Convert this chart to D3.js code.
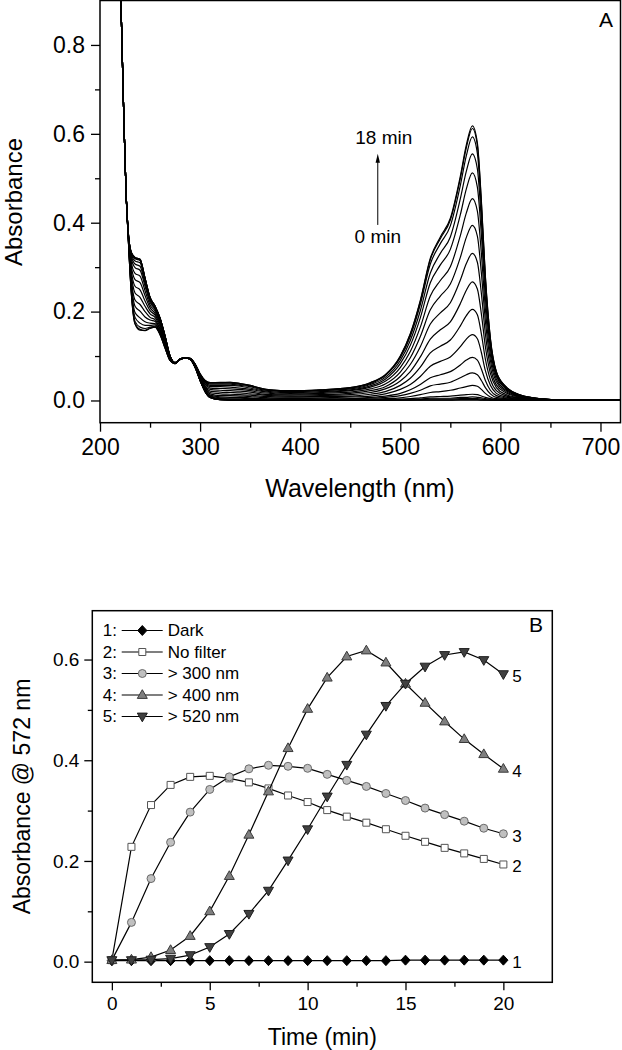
<!DOCTYPE html>
<html><head><meta charset="utf-8">
<script src="https://cdn.jsdelivr.net/npm/d3@7"></script>
<style>body{margin:0;background:#fff}</style>
</head><body><svg id="chart" width="622" height="1050"></svg>
<script>
// ================= DATA =================
// Panel A: absorption spectra recorded every minute (0 ... 18 min)
const wavelengths = [220,222,224,226,228,231,235,240,245,250,255,260,265,
  270,275,280,285,290,295,300,305,310,320,330,340,350,360,370,390,420,450,
  470,485,500,510,520,530,540,550,560,566,572,577,581,585,590,596,605,620,640,660,720];

const abs00 = [.98,.80,.62,.47,.385,.335,.322,.318,.275,.232,.212,.185,.145,
  .100,.085,.093,.096,.093,.075,.045,.020,.007,.002,.001,.001,.001,.001,.001,.001,.001,.001,
  .001,.001,.001,.001,.001,.001,.001,.001,.001,.001,.001,.001,.001,.001,.001,.001,.001,.001,.001,.001,.001];
const abs01 = [.98,.80,.62,.47,.385,.335,.322,.318,.275,.232,.212,.185,.145,
  .100,.085,.093,.096,.093,.075,.045,.020,.007,.002,.001,.001,.001,.001,.001,.001,.001,.001,
  .001,.001,.001,.001,.001,.001,.001,.001,.002,.002,.002,.002,.001,.001,.001,.001,.001,.001,.001,.001,.001];
const abs02 = [.98,.80,.62,.47,.385,.335,.321,.317,.275,.232,.212,.185,.145,
  .100,.085,.093,.096,.093,.075,.045,.020,.007,.002,.001,.001,.001,.001,.001,.001,.001,.001,
  .001,.001,.001,.001,.002,.003,.003,.003,.004,.004,.004,.004,.003,.002,.001,.001,.001,.001,.001,.001,.001];
const abs03 = [.98,.80,.62,.47,.385,.334,.320,.316,.274,.231,.212,.185,.145,
  .100,.085,.093,.096,.093,.075,.045,.020,.007,.002,.001,.001,.001,.001,.001,.001,.001,.001,
  .001,.001,.002,.003,.003,.005,.005,.005,.007,.007,.008,.007,.006,.004,.003,.002,.001,.001,.001,.001,.001];
const abs04 = [.98,.80,.62,.47,.385,.333,.319,.315,.273,.231,.211,.184,.144,
  .100,.085,.093,.096,.093,.075,.045,.021,.008,.003,.002,.002,.002,.002,.001,.001,.001,.002,
  .002,.002,.003,.004,.006,.008,.009,.010,.012,.013,.014,.013,.010,.007,.004,.002,.002,.001,.001,.001,.001];
const abs05 = [.98,.80,.62,.47,.384,.330,.314,.310,.269,.228,.210,.183,.144,
  .099,.085,.093,.096,.093,.075,.046,.021,.009,.004,.003,.003,.003,.002,.002,.002,.002,.002,
  .003,.004,.006,.009,.013,.018,.020,.023,.028,.031,.034,.032,.025,.016,.008,.004,.003,.002,.001,.001,.001];
const abs06 = [.98,.80,.62,.47,.384,.327,.307,.302,.263,.225,.207,.181,.142,
  .099,.085,.093,.096,.093,.076,.046,.022,.010,.006,.005,.005,.004,.004,.003,.003,.003,.004,
  .005,.007,.011,.016,.023,.033,.037,.041,.051,.058,.062,.058,.045,.029,.015,.007,.004,.002,.001,.001,.001];
const abs07 = [.98,.80,.62,.47,.383,.322,.299,.293,.257,.221,.205,.179,.141,
  .098,.085,.093,.096,.093,.076,.047,.024,.012,.008,.007,.007,.006,.005,.005,.004,.005,.005,
  .007,.010,.016,.024,.036,.051,.058,.065,.080,.091,.097,.091,.071,.045,.023,.011,.006,.003,.001,.001,.001];
const abs08 = [.98,.80,.62,.47,.383,.315,.286,.280,.247,.215,.201,.176,.139,
  .098,.085,.093,.096,.093,.077,.049,.026,.015,.011,.011,.010,.009,.007,.006,.006,.006,.008,
  .010,.015,.025,.036,.054,.077,.088,.098,.121,.138,.148,.139,.108,.067,.034,.016,.008,.004,.002,.001,.001];
const abs09 = [.98,.80,.62,.47,.382,.307,.272,.265,.236,.209,.196,.173,.136,
  .097,.084,.093,.096,.094,.077,.050,.028,.018,.015,.014,.013,.012,.010,.009,.008,.009,.010,
  .014,.020,.034,.050,.075,.107,.122,.136,.168,.191,.205,.193,.150,.093,.047,.022,.011,.005,.002,.001,.001];
const abs10 = [.98,.80,.62,.47,.381,.298,.257,.249,.224,.202,.192,.169,.133,
  .096,.084,.093,.096,.094,.078,.051,.031,.021,.019,.018,.017,.015,.013,.011,.010,.011,.013,
  .018,.026,.044,.065,.098,.138,.159,.177,.218,.248,.267,.251,.195,.121,.061,.029,.014,.006,.002,.001,.001];
const abs11 = [.98,.80,.62,.47,.380,.290,.242,.232,.212,.195,.187,.165,.131,
  .095,.084,.092,.096,.094,.079,.053,.033,.025,.023,.022,.021,.019,.015,.013,.012,.013,.016,
  .022,.031,.054,.081,.121,.172,.197,.220,.271,.308,.331,.311,.241,.150,.075,.035,.018,.007,.003,.001,.001];
const abs12 = [.98,.80,.62,.47,.379,.281,.226,.216,.200,.187,.182,.161,.128,
  .094,.084,.092,.096,.094,.079,.055,.036,.028,.027,.026,.025,.022,.018,.016,.014,.016,.019,
  .026,.037,.064,.096,.144,.204,.235,.262,.322,.367,.394,.370,.287,.179,.090,.042,.021,.008,.003,.001,.001];
const abs13 = [.98,.80,.62,.47,.378,.273,.212,.201,.188,.181,.178,.158,.125,
  .093,.084,.092,.096,.094,.080,.056,.038,.031,.031,.030,.028,.025,.021,.018,.016,.018,.022,
  .030,.043,.074,.110,.165,.235,.270,.301,.371,.422,.454,.426,.331,.206,.103,.048,.024,.009,.003,.001,.001];
const abs14 = [.98,.80,.62,.47,.377,.265,.198,.186,.177,.174,.173,.154,.123,
  .092,.083,.092,.096,.095,.081,.057,.041,.034,.034,.034,.032,.028,.023,.020,.018,.020,.024,
  .033,.048,.083,.124,.186,.265,.305,.340,.418,.476,.512,.480,.373,.232,.116,.054,.027,.010,.003,.001,.001];
const abs15 = [.98,.80,.62,.47,.376,.259,.187,.174,.169,.169,.170,.152,.121,
  .091,.083,.092,.096,.095,.081,.058,.042,.037,.037,.037,.034,.031,.025,.022,.020,.022,.026,
  .036,.052,.090,.135,.202,.287,.331,.368,.454,.516,.555,.521,.404,.252,.126,.058,.029,.011,.004,.001,.001];
const abs16 = [.98,.80,.62,.47,.375,.253,.178,.165,.162,.165,.167,.150,.119,
  .090,.083,.092,.096,.095,.082,.059,.044,.039,.039,.039,.036,.033,.027,.023,.021,.023,.028,
  .038,.056,.096,.144,.216,.307,.353,.393,.484,.551,.593,.556,.432,.269,.134,.062,.031,.012,.004,.001,.001];
const abs17 = [.98,.80,.62,.47,.375,.251,.173,.160,.158,.163,.165,.148,.118,
  .090,.083,.092,.096,.095,.082,.060,.045,.040,.040,.041,.038,.034,.028,.024,.022,.024,.029,
  .040,.057,.099,.149,.223,.317,.364,.406,.500,.569,.612,.574,.445,.277,.139,.064,.032,.012,.004,.001,.001];
const abs18 = [.98,.80,.62,.47,.375,.250,.172,.158,.157,.162,.165,.148,.118,
  .090,.083,.092,.096,.095,.082,.060,.045,.040,.041,.041,.038,.034,.028,.024,.022,.024,.029,
  .040,.058,.100,.150,.225,.320,.368,.410,.505,.575,.618,.580,.450,.280,.140,.065,.032,.012,.004,.001,.001];
const spectra = [abs00,abs01,abs02,abs03,abs04,abs05,abs06,abs07,abs08,abs09,
                 abs10,abs11,abs12,abs13,abs14,abs15,abs16,abs17,abs18];

const wavelengthTicks = [200,300,400,500,600,700];
const wavelengthMinorTicks = [250,350,450,550,650];
const absATicks = [0.0,0.2,0.4,0.6,0.8];
const absAMinorTicks = [0.1,0.3,0.5,0.7];

// Panel B: absorbance at 572 nm vs irradiation time
const timePoints = [0,1,2,3,4,5,6,7,8,9,10,11,12,13,14,15,16,17,18,19,20];
const darkValues     = [.002,.002,.002,.002,.002,.002,.002,.002,.002,.002,.002,.002,.002,.002,.002,.003,.003,.003,.003,.003,.003];
const noFilterValues = [.003,.228,.311,.351,.367,.369,.364,.356,.344,.330,.317,.301,.288,.276,.263,.250,.238,.226,.215,.204,.193];
const above300Values = [.003,.078,.165,.237,.297,.342,.367,.383,.390,.388,.384,.372,.360,.348,.334,.320,.305,.292,.279,.265,.254];
const above400Values = [.003,.004,.009,.023,.051,.100,.170,.252,.338,.424,.502,.564,.606,.618,.594,.552,.514,.477,.442,.412,.383];
const above520Values = [.003,.003,.004,.006,.013,.029,.055,.095,.141,.201,.263,.328,.391,.451,.508,.552,.586,.609,.615,.599,.571];
const seriesNumbers = ["1","2","3","4","5"];
const seriesNames = ["Dark","No filter","> 300 nm","> 400 nm","> 520 nm"];
const timeTicks = [0,5,10,15,20];
const timeMinorTicks = [2.5,7.5,12.5,17.5];
const absBTicks = [0.0,0.2,0.4,0.6];
const absBMinorTicks = [0.1,0.3,0.5];

// ================= DRAWING =================
const FONT = "'Liberation Sans', Arial, Helvetica, sans-serif";
const svg = d3.select("#chart");

function styleAxis(g, size) {
  g.select(".domain").remove();
  g.attr("font-family", FONT);
  g.selectAll("line").attr("stroke", "#000").attr("stroke-width", 1.3);
  g.selectAll("text").attr("font-family", FONT).attr("font-size", size).attr("fill", "#000");
}

// ---------- Panel A ----------
const xA = d3.scaleLinear().domain([200, 720]).range([100, 620.5]);
const yA = d3.scaleLinear().domain([-0.05, 0.9]).range([422.7, 0.5]);
const gA = svg.append("g");
gA.append("defs").append("clipPath").attr("id", "clipA").append("rect")
  .attr("x", xA.range()[0]).attr("y", yA.range()[1])
  .attr("width", xA.range()[1] - xA.range()[0]).attr("height", yA.range()[0] - yA.range()[1]);

const lineA = d3.line().x((d, i) => xA(wavelengths[i])).y(d => yA(d)).curve(d3.curveMonotoneX);
gA.append("g").attr("clip-path", "url(#clipA)")
  .selectAll("path").data(spectra).join("path")
  .attr("d", lineA).attr("fill", "none").attr("stroke", "#000").attr("stroke-width", 1.2);

gA.append("g").attr("transform", `translate(0,${yA.range()[0]})`)
  .call(d3.axisBottom(xA).tickValues(wavelengthTicks).tickSize(9).tickPadding(7).tickFormat(d3.format("d")))
  .call(g => styleAxis(g, 23));
gA.append("g").attr("transform", `translate(0,${yA.range()[0]})`)
  .call(d3.axisBottom(xA).tickValues(wavelengthMinorTicks).tickSize(5).tickFormat(""))
  .call(g => styleAxis(g, 23));
gA.append("g").attr("transform", `translate(${xA.range()[0]},0)`)
  .call(d3.axisLeft(yA).tickValues(absATicks).tickSize(9).tickPadding(6).tickFormat(d3.format(".1f")))
  .call(g => styleAxis(g, 23));
gA.append("g").attr("transform", `translate(${xA.range()[0]},0)`)
  .call(d3.axisLeft(yA).tickValues(absAMinorTicks).tickSize(5).tickFormat(""))
  .call(g => styleAxis(g, 23));

gA.append("rect").attr("x", xA.range()[0]).attr("y", yA.range()[1])
  .attr("width", xA.range()[1] - xA.range()[0]).attr("height", yA.range()[0] - yA.range()[1])
  .attr("fill", "none").attr("stroke", "#000").attr("stroke-width", 1.5);

gA.append("text").attr("x", 360).attr("y", 497).attr("text-anchor", "middle")
  .attr("font-family", FONT).attr("font-size", 25).text("Wavelength (nm)");
gA.append("text").attr("transform", "translate(22,202) rotate(-90)").attr("text-anchor", "middle")
  .attr("font-family", FONT).attr("font-size", 24).text("Absorbance");
gA.append("text").attr("x", 613).attr("y", 27).attr("text-anchor", "end")
  .attr("font-family", FONT).attr("font-size", 21).text("A");

// time arrow annotation
const arrowX = xA(477.5);
gA.append("line").attr("x1", arrowX).attr("x2", arrowX)
  .attr("y1", yA(0.395)).attr("y2", yA(0.545))
  .attr("stroke", "#000").attr("stroke-width", 1);
gA.append("path")
  .attr("d", `M${arrowX},${yA(0.555)} L${arrowX + 2.2},${yA(0.535)} L${arrowX - 2.2},${yA(0.535)} Z`)
  .attr("fill", "#000");
gA.append("text").attr("x", xA(483.5)).attr("y", yA(0.578)).attr("text-anchor", "middle")
  .attr("font-family", FONT).attr("font-size", 19).text("18 min");
gA.append("text").attr("x", arrowX).attr("y", yA(0.355)).attr("text-anchor", "middle")
  .attr("font-family", FONT).attr("font-size", 19).text("0 min");

// ---------- Panel B ----------
const xB = d3.scaleLinear().domain([-1, 22.5]).range([92.3, 552.3]);
const yB = d3.scaleLinear().domain([-0.041, 0.697]).range([982.3, 610.7]);
const gB = svg.append("g");

const markerPaths = {
  diamond: "M0,-5L4.6,0L0,5L-4.6,0Z",
  square: "M-3.5,-3.5H3.5V3.5H-3.5Z",
  circle: "M4,0A4,4 0 1,1 -4,0A4,4 0 1,1 4,0Z",
  triUp: "M0,-5.3L5,3.4L-5,3.4Z",
  triDown: "M0,5.3L5,-3.4L-5,-3.4Z"
};
const seriesStyles = [
  {marker: "diamond", fill: "#000", stroke: "#000"},
  {marker: "square", fill: "#fff", stroke: "#555"},
  {marker: "circle", fill: "#c0c0c0", stroke: "#6a6a6a"},
  {marker: "triUp", fill: "#7f7f7f", stroke: "#3a3a3a"},
  {marker: "triDown", fill: "#404040", stroke: "#1e1e1e"}
];
const seriesValues = [darkValues, noFilterValues, above300Values, above400Values, above520Values];

gB.append("g").attr("transform", `translate(0,${yB.range()[0]})`)
  .call(d3.axisBottom(xB).tickValues(timeTicks).tickSize(8).tickPadding(6).tickFormat(d3.format("d")))
  .call(g => styleAxis(g, 19));
gB.append("g").attr("transform", `translate(0,${yB.range()[0]})`)
  .call(d3.axisBottom(xB).tickValues(timeMinorTicks).tickSize(4.5).tickFormat(""))
  .call(g => styleAxis(g, 19));
gB.append("g").attr("transform", `translate(${xB.range()[0]},0)`)
  .call(d3.axisLeft(yB).tickValues(absBTicks).tickSize(8).tickPadding(5).tickFormat(d3.format(".1f")))
  .call(g => styleAxis(g, 19));
gB.append("g").attr("transform", `translate(${xB.range()[0]},0)`)
  .call(d3.axisLeft(yB).tickValues(absBMinorTicks).tickSize(4.5).tickFormat(""))
  .call(g => styleAxis(g, 19));

const lineB = d3.line().x((d, i) => xB(timePoints[i])).y(d => yB(d));
seriesValues.forEach((vals, s) => {
  const st = seriesStyles[s];
  const g = gB.append("g");
  g.append("path").attr("d", lineB(vals)).attr("fill", "none")
    .attr("stroke", "#000").attr("stroke-width", 1.2);
  g.selectAll("path.m").data(vals).join("path").attr("class", "m")
    .attr("d", markerPaths[st.marker])
    .attr("transform", (d, i) => `translate(${xB(timePoints[i])},${yB(d)})`)
    .attr("fill", st.fill).attr("stroke", st.stroke).attr("stroke-width", 1);
  g.append("text").attr("x", xB(timePoints[timePoints.length - 1]) + 9)
    .attr("y", yB(vals[vals.length - 1]) + 2).attr("dy", "0.35em")
    .attr("font-family", FONT).attr("font-size", 17).text(seriesNumbers[s]);
});

gB.append("rect").attr("x", xB.range()[0]).attr("y", yB.range()[1])
  .attr("width", xB.range()[1] - xB.range()[0]).attr("height", yB.range()[0] - yB.range()[1])
  .attr("fill", "none").attr("stroke", "#000").attr("stroke-width", 1.5);

// legend
const legend = gB.append("g");
seriesNames.forEach((name, i) => {
  const y = 630.5 + i * 21.5;
  const st = seriesStyles[i];
  legend.append("text").attr("x", 102.7).attr("y", y).attr("dy", "0.35em")
    .attr("font-family", FONT).attr("font-size", 17).text(seriesNumbers[i] + ":");
  legend.append("line").attr("x1", 121.7).attr("x2", 162.7).attr("y1", y).attr("y2", y)
    .attr("stroke", "#000").attr("stroke-width", 1.2);
  legend.append("path").attr("d", markerPaths[st.marker]).attr("transform", `translate(142.3,${y})`)
    .attr("fill", st.fill).attr("stroke", st.stroke).attr("stroke-width", 1);
  legend.append("text").attr("x", 167.7).attr("y", y).attr("dy", "0.35em")
    .attr("font-family", FONT).attr("font-size", 17).text(name);
});

gB.append("text").attr("x", 543).attr("y", 632).attr("text-anchor", "end")
  .attr("font-family", FONT).attr("font-size", 21).text("B");
gB.append("text").attr("x", 322.3).attr("y", 1045).attr("text-anchor", "middle")
  .attr("font-family", FONT).attr("font-size", 23).text("Time (min)");
gB.append("text").attr("transform", "translate(30,796.5) rotate(-90)").attr("text-anchor", "middle")
  .attr("font-family", FONT).attr("font-size", 23).text("Absorbance @ 572 nm");
</script>
</body></html>
